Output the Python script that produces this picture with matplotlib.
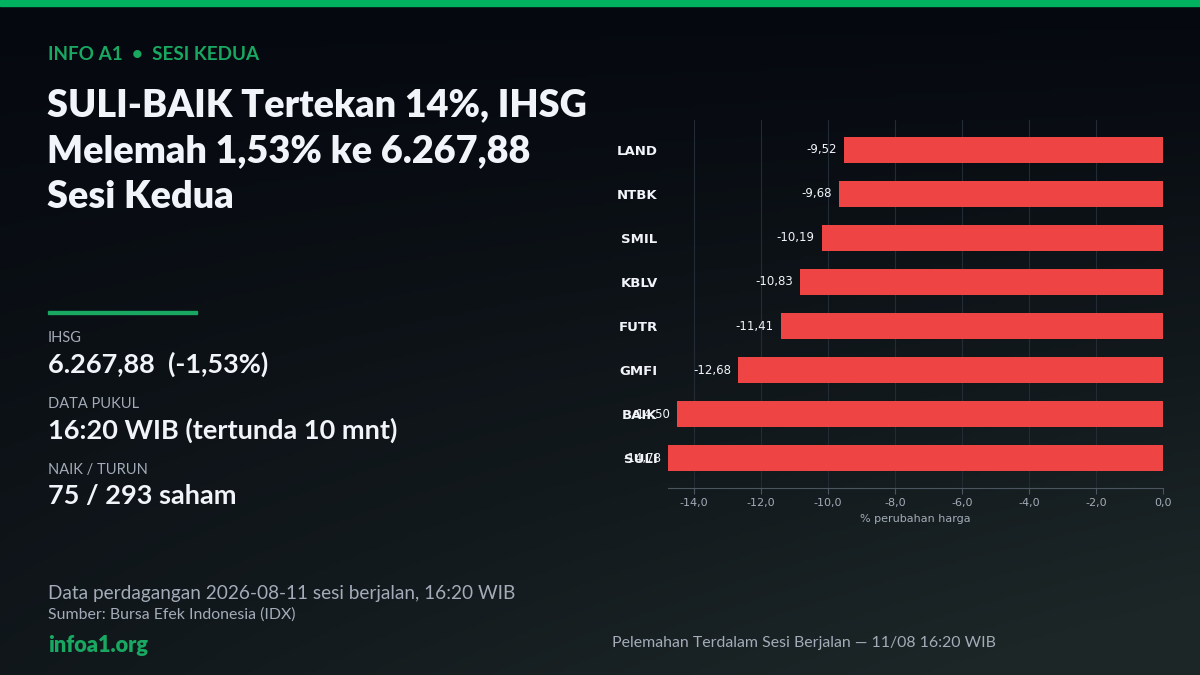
import numpy as np
import matplotlib
matplotlib.use("Agg")
import matplotlib.pyplot as plt
from matplotlib.patches import Rectangle
from matplotlib.ticker import FuncFormatter

# ---------------- data ----------------
tickers = ["LAND", "NTBK", "SMIL", "KBLV", "FUTR", "GMFI", "BAIK", "SULI"]
changes = [-9.52, -9.68, -10.19, -10.83, -11.41, -12.68, -14.50, -14.78]
x_ticks = [-14.0, -12.0, -10.0, -8.0, -6.0, -4.0, -2.0, 0.0]

header = "INFO A1  \u2022  SESI KEDUA"
title_lines = ["SULI-BAIK Tertekan 14%, IHSG", "Melemah 1,53% ke 6.267,88", "Sesi Kedua"]
stat_labels = ["IHSG", "DATA PUKUL", "NAIK / TURUN"]
stat_values = ["6.267,88  (-1,53%)", "16:20 WIB (tertunda 10 mnt)", "75 / 293 saham"]
footer_main = "Data perdagangan 2026-08-11 sesi berjalan, 16:20 WIB"
footer_src = "Sumber: Bursa Efek Indonesia (IDX)"
brand = "infoa1.org"
chart_caption = "Pelemahan Terdalam Sesi Berjalan \u2014 11/08 16:20 WIB"
x_label = "% perubahan harga"

# ---------------- style ----------------
W, H = 1200, 675
GREEN_BAR = "#00b25f"
GREEN_TXT = "#19a862"
WHITE = "#f1f4f8"
GRAY = "#a3acb8"
RED = "#ef4444"
LATO = ["Lato", "DejaVu Sans"]

fig = plt.figure(figsize=(W / 100, H / 100), dpi=100)

def P(x, y):
    return x / W, 1 - y / H

# background gradient
bg = fig.add_axes([0, 0, 1, 1], zorder=-10)
gy, gx = np.mgrid[0:1:200j, 0:1:360j]
t = np.clip(0.5 * gy + 0.5 * gy * gx + 0.15 * gx * gy ** 2, 0, 1)
c0 = np.array([0x05, 0x08, 0x0f]) / 255
c1 = np.array([0x1c, 0x26, 0x27]) / 255
img = c0[None, None, :] * (1 - t[..., None]) + c1[None, None, :] * t[..., None]
bg.imshow(img, extent=[0, 1, 0, 1], aspect="auto", origin="upper")
bg.set_axis_off()

fig.patches.append(Rectangle((0, 1 - 6 / H), 1, 6 / H, transform=fig.transFigure,
                             color=GREEN_BAR, zorder=5))

# left texts
fig.text(*P(48, 54), header, family=LATO, weight="bold", fontsize=13.6,
         color=GREEN_TXT, va="center", ha="left")
for i, line in enumerate(title_lines):
    fig.text(*P(47, 105.5 + 45.5 * i), line, family=LATO, weight="heavy", fontsize=27.2,
             color=WHITE, va="center", ha="left")

fig.patches.append(Rectangle(P(48, 313.5), 149 / W, 3 / H, transform=fig.transFigure,
                             color=GREEN_TXT))
for i, (lab, val) in enumerate(zip(stat_labels, stat_values)):
    y0 = 338 + 66 * i
    fig.text(*P(48, y0), lab, family=LATO, fontsize=10.5, color=GRAY, va="center")
    fig.text(*P(48, y0 + 26), val, family=LATO, weight="bold", fontsize=19.5,
             color=WHITE, va="center")

fig.text(*P(48, 593.5), footer_main, family=LATO, fontsize=13.65, color=GRAY, va="center")
fig.text(*P(48, 615), footer_src, family=LATO, fontsize=11.4, color=GRAY, va="center")
fig.text(*P(48, 646), brand, family=LATO, weight="heavy", fontsize=15.7,
         color=GREEN_TXT, va="center")
fig.text(*P(612, 643), chart_caption, family=LATO, fontsize=11.4, color=GRAY, va="center")

# chart
ax = fig.add_axes([668 / W, 1 - 488 / H, (1163 - 668) / W, (488 - 120) / H])
ax.set_facecolor("none")
ypos = np.arange(len(tickers))
ax.barh(ypos, changes, height=0.6, color=RED, zorder=3)
ax.set_yticks(ypos)
ax.set_yticklabels(tickers, fontsize=9.5, fontweight="bold", color=WHITE)
ax.invert_yaxis()
ax.set_xlim(min(changes), 0)
ax.set_xticks(x_ticks)
ax.xaxis.set_major_formatter(FuncFormatter(lambda v, p: f"{v:.1f}".replace(".", ",")))
ax.tick_params(axis="x", colors=GRAY, labelsize=8, length=4, width=0.8, color="#4a5560")
ax.tick_params(axis="y", length=0, pad=7.5)
ax.grid(axis="x", color="#232b34", linewidth=0.8, zorder=0)
for s in ["top", "right", "left"]:
    ax.spines[s].set_visible(False)
ax.spines["bottom"].set_color("#4a5560")
ax.spines["bottom"].set_linewidth(0.8)
ax.set_xlabel(x_label, color=GRAY, fontsize=8, labelpad=4)

for yp, v in zip(ypos, changes):
    ax.annotate(f"{v:.2f}".replace(".", ","), xy=(v, yp), xytext=(-5, 0),
                textcoords="offset points", ha="right", va="center",
                fontsize=8.5, color=WHITE, zorder=4)

fig.savefig("out.png", dpi=100, facecolor=fig.get_facecolor())
